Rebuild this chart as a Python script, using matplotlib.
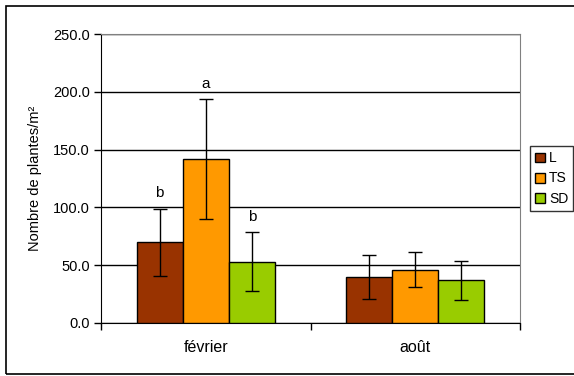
import matplotlib
matplotlib.use("Agg")
import matplotlib.pyplot as plt
import numpy as np
from matplotlib.patches import Rectangle

categories = ["février", "août"]
series = ["L", "TS", "SD"]
values = {"L": [70, 40], "TS": [142, 46], "SD": [53, 37]}
errors = {"L": [29, 19], "TS": [52, 15], "SD": [25.5, 17]}
letters = {"L": ["b", ""], "TS": ["a", ""], "SD": ["b", ""]}
colors = {"L": "#993300", "TS": "#FF9900", "SD": "#99CC00"}
yticks = [0, 50, 100, 150, 200, 250]

plt.rcParams['font.family'] = ['Liberation Sans', 'DejaVu Sans']
fig = plt.figure(figsize=(5.74, 3.76), dpi=100)
fig.patches.append(Rectangle((5.5/574, 2/376), 600/574, 368.5/376, transform=fig.transFigure,
                             fill=False, edgecolor='black', linewidth=1.2))
ax = fig.add_axes([101/574, 53/376, 419/574, 289/376])

x = np.arange(len(categories))
w = 0.22
for i, s in enumerate(series):
    pos = x + (i - 1) * w
    ax.bar(pos, values[s], width=w, color=colors[s], edgecolor='black', linewidth=1.0,
           label=s, zorder=3)
    ax.errorbar(pos, values[s], yerr=errors[s], fmt='none', ecolor='black',
                elinewidth=1.0, capsize=5, capthick=1.0, zorder=4)
    for j, t in enumerate(letters[s]):
        if t:
            ax.text(pos[j], values[s][j] + errors[s][j] + 7, t, ha='center', va='bottom',
                    fontsize=11)

ax.set_xlim(-0.5, 1.5)
ax.set_ylim(0, 250)
ax.set_yticks(yticks)
ax.set_yticklabels([f"{v:.1f}" for v in yticks], fontsize=10.5)
ax.yaxis.grid(True, color='black', linewidth=1.0, zorder=0)
ax.set_axisbelow(True)
ax.set_xticks([-0.5, 0.5, 1.5])
ax.set_xticklabels([])
ax.set_xticks(x, minor=True)
ax.set_xticklabels(categories, minor=True, fontsize=11.5)
ax.tick_params(axis='x', which='minor', length=0, pad=12)
ax.tick_params(axis='x', which='major', direction='out', length=5, width=1)
ax.tick_params(axis='y', direction='out', length=5, width=1, pad=3)
ax.set_ylabel("Nombre de plantes/m²", fontsize=10.5, labelpad=8)
for side in ['top', 'right']:
    ax.spines[side].set_color('#808080')
ax.spines['left'].set_color('#000000')
ax.spines['bottom'].set_color('#000000')

leg = ax.legend(loc='center left', bbox_to_anchor=(1.025, 0.5), frameon=True, fancybox=False,
                edgecolor='black', fontsize=10, handlelength=0.7, handleheight=0.7,
                handletextpad=0.3, borderpad=0.35, labelspacing=0.45, borderaxespad=0)
leg.get_frame().set_linewidth(1.0)

fig.savefig("out.png", dpi=100)
